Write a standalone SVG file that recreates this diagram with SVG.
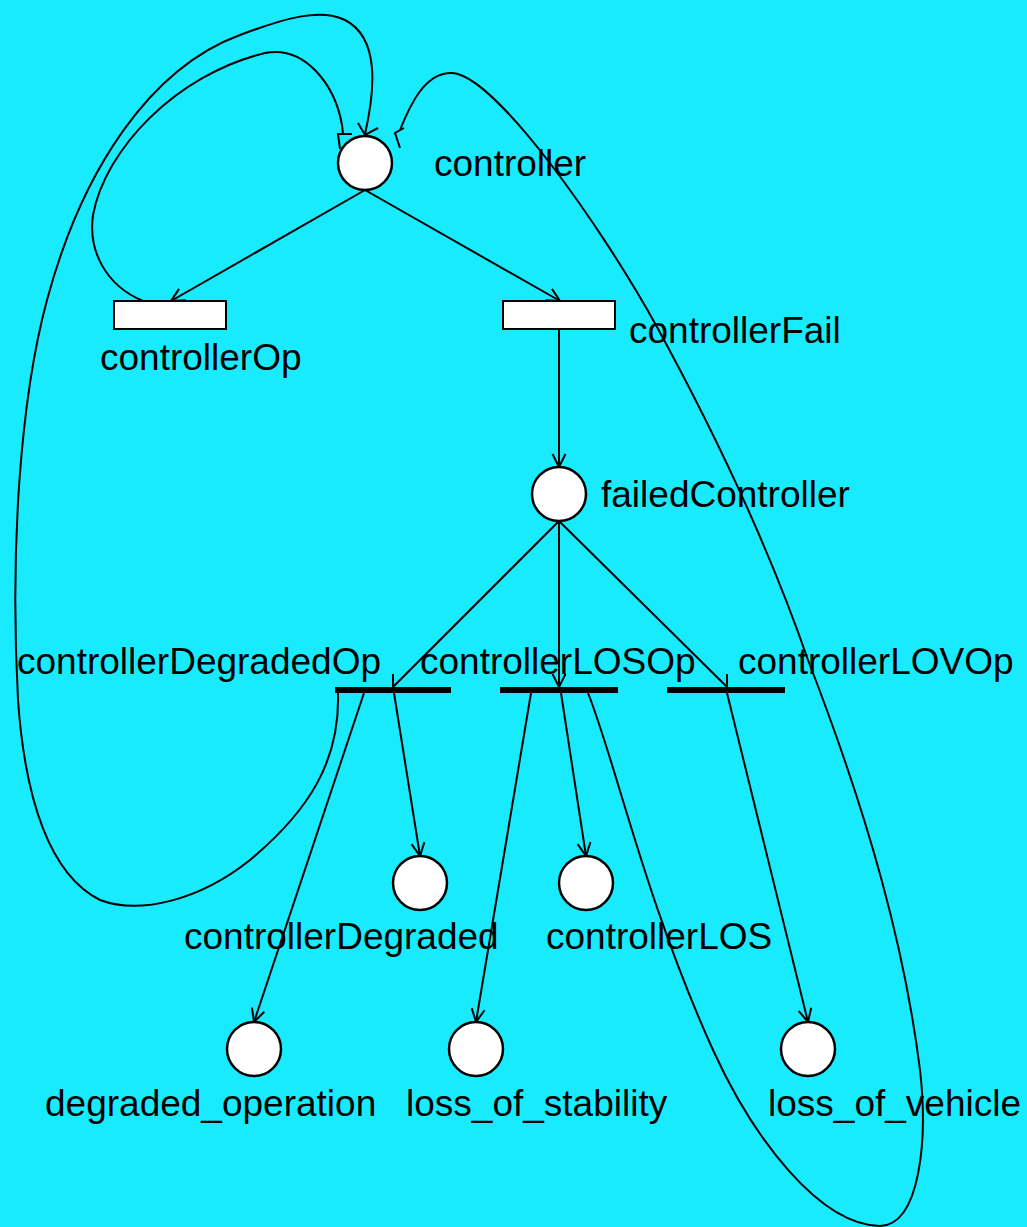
<svg xmlns="http://www.w3.org/2000/svg" width="1027" height="1227" viewBox="0 0 1027 1227">
  <style>
    .place { fill: #ffffff; stroke: #000000; stroke-width: 2.5; }
    .trans { fill: #ffffff; stroke: #000000; stroke-width: 2; }
    .bar { fill: #000000; }
    .arc { fill: none; stroke: #000000; stroke-width: 2; }
    .lbl { font-family: "Liberation Sans", Arial, sans-serif; font-size: 37px; fill: #000000; }
  </style>
  <defs>
    <marker id="arrow" markerUnits="userSpaceOnUse" markerWidth="20" markerHeight="20" refX="0" refY="0" viewBox="-16 -10 20 20" orient="auto">
      <path d="M-13,-6.5 L0,0 L-13,6.5" fill="none" stroke="#000000" stroke-width="2"/>
    </marker>
  </defs>

  <rect x="0" y="0" width="1027" height="1227" fill="#19EBFF"/>

  <!-- arcs of the net -->
  <g id="connectors">
    <line class="arc" x1="365" y1="190" x2="171" y2="301" marker-end="url(#arrow)"/>
    <line class="arc" x1="365" y1="190" x2="560" y2="301" marker-end="url(#arrow)"/>
    <line class="arc" x1="559" y1="329" x2="559" y2="467" marker-end="url(#arrow)"/>
    <line class="arc" x1="559" y1="521" x2="393" y2="687"/>
    <path class="arc" d="M393,674 L393,687"/>
    <line class="arc" x1="559" y1="521" x2="559" y2="687" marker-end="url(#arrow)"/>
    <line class="arc" x1="559" y1="521" x2="727" y2="687"/>
    <path class="arc" d="M727,674 L727,687"/>
    <line class="arc" x1="394" y1="693" x2="420" y2="856" marker-end="url(#arrow)"/>
    <line class="arc" x1="364" y1="693" x2="254" y2="1022" marker-end="url(#arrow)"/>
    <line class="arc" x1="561" y1="693" x2="586" y2="856" marker-end="url(#arrow)"/>
    <line class="arc" x1="531" y1="693" x2="476" y2="1022" marker-end="url(#arrow)"/>
    <line class="arc" x1="727" y1="693" x2="808" y2="1022" marker-end="url(#arrow)"/>
    <!-- controllerOp back to controller -->
    <path class="arc" d="M143,301 C105,285 88,250 93,215 C105,150 175,75 265,53 C305,45 335,85 342,125 L343,134"/>
    <path class="arc" d="M352,134 L338,134 L340,149"/>
    <!-- controllerDegradedOp back to controller -->
    <path class="arc" d="M338,693 C340,760 310,810 250,860 C200,900 140,915 100,900 C50,875 25,800 18,700 C10,550 20,400 47,300 C82,170 150,68 240,35 C285,18 320,8 345,20 C380,38 375,90 365,134"/>
    <path class="arc" d="M358,123 L365,135 L378,128"/>
    <!-- controllerLOSOp back to controller -->
    <path class="arc" d="M588,693 C615,760 645,900 713,1050 C754,1140 820,1225 880,1226 C920,1225 928,1140 920,1070 C905,950 870,820 808,660 C770,550 717,437 657,327 C602,227 495,75 452,73 C425,72 410,105 400,130"/>
    <path class="arc" d="M404,128 L395,133 L400,148"/>
  </g>

  <!-- places -->
  <g id="controller">
    <circle class="place" cx="365" cy="163" r="27"/>
    <text class="lbl" x="434" y="176">controller</text>
  </g>
  <g id="failedController">
    <circle class="place" cx="559" cy="494" r="27"/>
    <text class="lbl" x="601" y="507">failedController</text>
  </g>
  <g id="controllerDegraded">
    <circle class="place" cx="420" cy="883" r="27"/>
    <text class="lbl" x="184" y="949">controllerDegraded</text>
  </g>
  <g id="controllerLOS">
    <circle class="place" cx="586" cy="883" r="27"/>
    <text class="lbl" x="546" y="949">controllerLOS</text>
  </g>
  <g id="degraded_operation">
    <circle class="place" cx="254" cy="1049" r="27"/>
    <text class="lbl" x="45" y="1116">degraded_operation</text>
  </g>
  <g id="loss_of_stability">
    <circle class="place" cx="476" cy="1049" r="27"/>
    <text class="lbl" x="406" y="1116">loss_of_stability</text>
  </g>
  <g id="loss_of_vehicle">
    <circle class="place" cx="808" cy="1049" r="27"/>
    <text class="lbl" x="768" y="1116">loss_of_vehicle</text>
  </g>

  <!-- transitions -->
  <g id="controllerOp">
    <rect class="trans" x="114" y="301" width="112" height="28"/>
    <text class="lbl" x="100" y="370">controllerOp</text>
  </g>
  <g id="controllerFail">
    <rect class="trans" x="503" y="301" width="112" height="28"/>
    <text class="lbl" x="629" y="343">controllerFail</text>
  </g>
  <g id="controllerDegradedOp">
    <rect class="bar" x="335" y="687" width="116" height="6"/>
    <text class="lbl" x="17" y="674">controllerDegradedOp</text>
  </g>
  <g id="controllerLOSOp">
    <rect class="bar" x="500" y="687" width="118" height="6"/>
    <text class="lbl" x="420" y="674">controllerLOSOp</text>
  </g>
  <g id="controllerLOVOp">
    <rect class="bar" x="667" y="687" width="118" height="6"/>
    <text class="lbl" x="738" y="674">controllerLOVOp</text>
  </g>
</svg>
